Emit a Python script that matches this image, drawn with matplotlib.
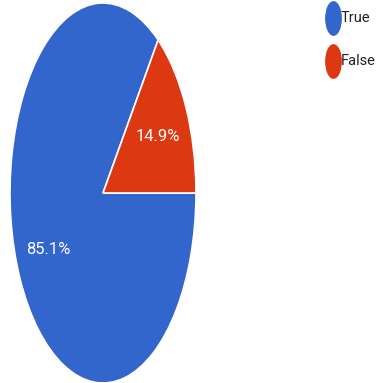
import matplotlib.pyplot as plt
from matplotlib.path import Path
from matplotlib.transforms import Affine2D

labels = ["True", "False"]
shares = [85.1, 14.9]
colors = ["#3366CC", "#DC3912"]

font = ["Roboto", "DejaVu Sans"]

fig = plt.figure(figsize=(3.79, 3.83), dpi=100)
ax = fig.add_axes([0, 0, 1, 1])

# start so that the small slice sits just above the 3 o'clock line
start = 360 * shares[1] / sum(shares)
wedges, texts, autotexts = ax.pie(
    shares, colors=colors, startangle=start, counterclock=True,
    autopct="%.1f%%", pctdistance=0.66,
    wedgeprops=dict(edgecolor="white", linewidth=1.2),
    textprops=dict(color="white", fontsize=12, family=font),
)

# stretched ellipse: x radius ~93 px, y radius ~190 px
ax.set_aspect("auto")
ax.set_xlim(-103 / 93, (379 - 103) / 93)
ax.set_ylim(-(383 - 193) / 190, 193 / 190)
ax.axis("off")

# tall oval legend markers
oval = Path.unit_circle().transformed(Affine2D().scale(0.46, 1.0))
for i, (lab, col) in enumerate(zip(labels, colors)):
    y = 1 - (18 + 43 * i) / 383
    ax.plot([333 / 379], [y], marker=oval, markersize=24, color=col,
            linestyle="none", transform=ax.transAxes, clip_on=False)
    ax.text(341 / 379, y, lab, transform=ax.transAxes, va="center",
            ha="left", fontsize=10.5, color="#222222", family=font)

fig.savefig("out.png", dpi=100)
